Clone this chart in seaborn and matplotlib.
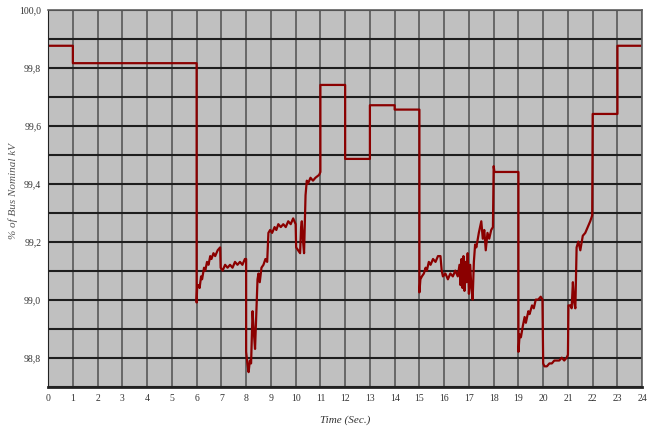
import pandas as pd
import seaborn as sns
import matplotlib.pyplot as plt
from matplotlib.ticker import MultipleLocator, FuncFormatter

# Bus voltage (% of nominal kV)
time_s = [0, 1, 1, 6, 6,
          6.02, 6.08, 6.12, 6.18, 6.22, 6.3, 6.35, 6.42, 6.48, 6.55, 6.6, 6.68, 6.75, 6.85, 6.95,
          6.97, 7.05, 7.15, 7.25, 7.35, 7.45, 7.55, 7.65, 7.75, 7.85, 7.95,
          8.0, 8.0, 8.05, 8.1, 8.15, 8.2, 8.26, 8.3, 8.36, 8.42, 8.46, 8.5, 8.55, 8.62, 8.7, 8.78, 8.85,
          8.9, 8.97, 9.05, 9.15, 9.22, 9.3, 9.4, 9.5, 9.6, 9.7, 9.8, 9.9, 9.95,
          10.0, 10.02, 10.1, 10.18, 10.22, 10.25, 10.3, 10.34, 10.4, 10.45, 10.5, 10.6, 10.7, 10.8, 10.95,
          11, 11, 12, 12, 13, 13, 14, 14, 15, 15,
          15.04, 15.1, 15.18, 15.25, 15.3, 15.38, 15.45, 15.55, 15.65, 15.75, 15.85,
          15.9, 15.95, 16.05, 16.15, 16.25, 16.35, 16.45, 16.55, 16.62, 16.66, 16.7, 16.74, 16.78,
          16.82, 16.86, 16.9, 16.95, 17.0, 17.05, 17.1, 17.15, 17.2, 17.25, 17.3, 17.4, 17.5,
          17.56, 17.62, 17.68, 17.75, 17.82, 17.9, 17.97,
          18, 18.03, 19, 19,
          19.05, 19.1, 19.18, 19.25, 19.3, 19.4, 19.45, 19.55, 19.62, 19.7, 19.8, 19.9, 19.97,
          20, 20.05, 20.15, 20.25, 20.35, 20.45, 20.55, 20.65, 20.75, 20.85, 20.95, 21,
          21.02, 21.1, 21.15, 21.2, 21.25, 21.3, 21.35, 21.42, 21.5, 21.6, 21.7, 21.8, 21.9, 21.98,
          22, 23, 23, 24]
voltage_pct = [99.875, 99.875, 99.815, 99.815, 98.99,
               99.04, 99.05, 99.04, 99.08, 99.07, 99.11, 99.10, 99.13, 99.12, 99.15, 99.14, 99.16, 99.15, 99.17, 99.18,
               99.11, 99.10, 99.12, 99.11, 99.12, 99.11, 99.13, 99.12, 99.13, 99.12, 99.14,
               99.14, 98.82, 98.78, 98.75, 98.79, 98.78, 98.96, 98.90, 98.83, 98.98, 99.07, 99.09, 99.06, 99.11, 99.12, 99.14, 99.13,
               99.23, 99.24, 99.23, 99.25, 99.24, 99.26, 99.25, 99.26, 99.25, 99.27, 99.26, 99.28, 99.27,
               99.26, 99.18, 99.17, 99.16, 99.25, 99.27, 99.20, 99.16, 99.36, 99.41, 99.40, 99.42, 99.41, 99.42, 99.43,
               99.44, 99.74, 99.74, 99.485, 99.485, 99.67, 99.67, 99.655, 99.655, 99.025,
               99.07, 99.08, 99.09, 99.11, 99.10, 99.13, 99.12, 99.14, 99.13, 99.15, 99.15,
               99.10, 99.08, 99.09, 99.07, 99.09, 99.08, 99.10, 99.08, 99.12, 99.05, 99.14, 99.04, 99.15,
               99.03, 99.13, 99.06, 99.16, 99.02, 99.12, 99.04, 99.00, 99.13, 99.19, 99.18, 99.23, 99.27,
               99.21, 99.24, 99.17, 99.23, 99.21, 99.24, 99.25,
               99.46, 99.44, 99.44, 98.82,
               98.88, 98.87, 98.91, 98.94, 98.92, 98.96, 98.95, 98.98, 98.97, 99.0, 99.0, 99.01, 99.0,
               98.78, 98.77, 98.77, 98.78, 98.78, 98.79, 98.79, 98.79, 98.80, 98.79, 98.80, 98.81,
               98.98, 98.98, 98.97, 99.06, 98.99, 98.97, 99.18, 99.20, 99.17, 99.22, 99.23, 99.25, 99.27, 99.29,
               99.64, 99.64, 99.875, 99.875]

df = pd.DataFrame({"time": time_s, "voltage": voltage_pct})

sns.set_style("white")
plt.rcParams["font.family"] = ["Liberation Serif", "DejaVu Serif"]

fig = plt.figure(figsize=(6.5, 4.32), dpi=100)
ax = fig.add_axes([0.074, 0.105, 0.914, 0.873])
ax.set_facecolor("#c0c0c0")

sns.lineplot(data=df, x="time", y="voltage", sort=False, estimator=None,
             color="#8b0000", linewidth=1.6, ax=ax)

ax.set_xlim(0, 24)
ax.set_ylim(98.7, 100.0)
ax.xaxis.set_major_locator(MultipleLocator(1))
ax.yaxis.set_major_locator(MultipleLocator(0.2))
ax.yaxis.set_minor_locator(MultipleLocator(0.1))
ax.yaxis.set_major_formatter(FuncFormatter(lambda v, p: f"{v:.1f}".replace(".", ",")))

ax.grid(axis="x", which="major", color="#606060", linewidth=1.3)
ax.grid(axis="y", which="both", color="#1e1e1e", linewidth=1.5)
ax.set_axisbelow(True)

for side in ["top", "right"]:
    ax.spines[side].set_color("#606060")
    ax.spines[side].set_linewidth(1.2)
ax.spines["left"].set_color("#222222")
ax.spines["bottom"].set_color("#222222")
ax.spines["bottom"].set_linewidth(2)

ax.tick_params(axis="both", which="major", direction="out", length=3, width=1,
               labelsize=7, colors="#333333", pad=2)
ax.tick_params(axis="y", which="minor", length=0)

ax.set_xlabel("Time (Sec.)", fontsize=8, fontstyle="italic", color="#333333")
ax.set_ylabel("% of Bus Nominal kV", fontsize=8, fontstyle="italic", color="#555555")
ax.xaxis.set_label_coords(0.5, -0.075)
ax.yaxis.set_label_coords(-0.05, 0.52)

plt.savefig("out.png", dpi=100)
